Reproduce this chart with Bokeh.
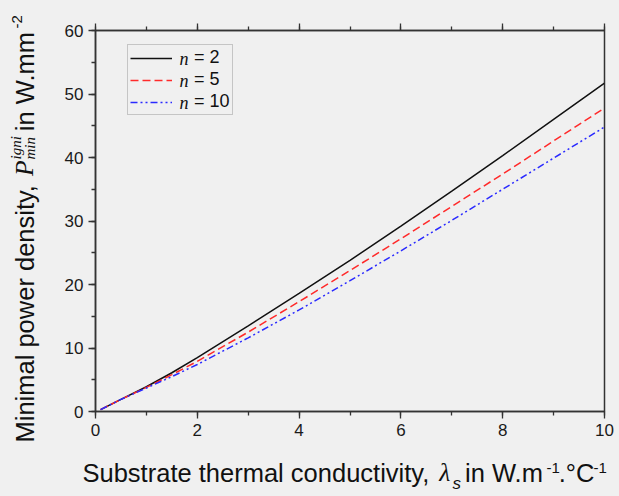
import math
from bokeh.plotting import figure
from bokeh.models import (LinearAxis, SingleIntervalTicker, Range1d, Legend,
                          LegendItem, Label, ColumnDataSource)
from bokeh.embed import file_html
from bokeh.resources import INLINE

# ---------------- data ----------------
lam_s = [0.1, 0.5, 1.0, 1.5, 2.0, 3.0, 4.0, 5.0, 6.0, 7.0, 8.0, 9.0, 10.0]
p_min_n2 = [0.3, 1.9, 3.9, 6.1, 8.5, 13.5, 18.6, 23.8, 29.2, 34.7, 40.3, 46.0, 51.7]
p_min_n5 = [0.3, 1.9, 3.8, 5.8, 7.9, 12.5, 17.3, 22.2, 27.2, 32.3, 37.4, 42.6, 47.8]
p_min_n10 = [0.3, 1.9, 3.7, 5.5, 7.4, 11.6, 16.0, 20.6, 25.3, 30.1, 35.0, 39.9, 44.8]
n_values = ["2", "5", "10"]
x_limits = (0, 10)
y_limits = (0, 60)
x_tick_step = 2
y_tick_step = 10

# ---------------- styling ----------------
BG = "#f0f0f0"
AXC = "#333333"
TXT = "#111111"
SANS = "Liberation Sans"
SERIF = "Liberation Serif"
W, H = 619, 496
BL, BR, BT, BB = 95, 15, 30, 85

p = figure(width=W, height=H, output_backend="svg", toolbar_location=None,
           x_range=Range1d(*x_limits), y_range=Range1d(*y_limits),
           min_border_left=BL, min_border_right=BR, min_border_top=BT,
           min_border_bottom=BB, background_fill_color=BG,
           border_fill_color=BG, outline_line_color=AXC,
           outline_line_width=1.5)
p.grid.visible = False


def style_axis(ax, ticker, labels=True):
    ax.ticker = ticker
    ax.axis_line_color = AXC
    ax.axis_line_width = 1.5
    ax.major_tick_line_color = AXC
    ax.major_tick_line_width = 1.3
    ax.minor_tick_line_color = AXC
    ax.minor_tick_line_width = 1.3
    ax.major_tick_out = 7
    ax.major_tick_in = 0
    ax.minor_tick_out = 4
    ax.minor_tick_in = 0
    ax.major_label_text_font = SANS
    ax.major_label_text_font_size = "17px"
    ax.major_label_text_color = "#1a1a1a"
    ax.major_label_standoff = 5
    ax.axis_label = None
    if not labels:
        ax.major_label_overrides = {float(v): "" for v in range(x_limits[0], x_limits[1] + 1)}
        ax.major_label_text_font_size = "1px"


style_axis(p.xaxis[0], SingleIntervalTicker(interval=x_tick_step, num_minor_ticks=2))
style_axis(p.yaxis[0], SingleIntervalTicker(interval=y_tick_step, num_minor_ticks=2))

top = LinearAxis()
style_axis(top, SingleIntervalTicker(interval=x_tick_step, num_minor_ticks=2), labels=False)
p.add_layout(top, "above")

r2 = p.line(lam_s, p_min_n2, line_color="#111111", line_width=1.5)
r5 = p.line(lam_s, p_min_n5, line_color="#ff2a2a", line_width=1.5, line_dash="8 4")
r10 = p.line(lam_s, p_min_n10, line_color="#2a2aff", line_width=1.5,
             line_dash="7 3 2 3 2 3")

legend = Legend(items=[LegendItem(label="= " + v, renderers=[r])
                       for v, r in zip(n_values, [r2, r5, r10])],
                location=(32, 296), margin=0, padding=2, spacing=1,
                glyph_width=42, glyph_height=18, label_height=18,
                label_standoff=22, label_text_font=SANS,
                label_text_font_size="18px", label_text_color=TXT,
                border_line_color="#9a9a9a", border_line_width=1,
                background_fill_alpha=0)
p.add_layout(legend)

# italic "n" in front of each legend label (canvas px)
for i, v in enumerate(n_values):
    p.add_layout(Label(x=179, y=58.2 + 22 * i, x_units="canvas", y_units="canvas",
                       text="n", text_font=SERIF, text_font_style="italic",
                       text_font_size="18px", text_color=TXT,
                       text_baseline="middle", text_align="left"))

# ---------------- rich axis titles (text pieces offset in px from the
# frame's bottom-left corner, drawn above the frame clip) ----------------
SANS_W = {" ": 278, ",": 278, ".": 278, "-": 333, "1": 556, "2": 556, "°": 400,
          "a": 556, "b": 556, "c": 500, "d": 556, "e": 556, "h": 556, "i": 222,
          "l": 222, "m": 833, "n": 556, "o": 556, "p": 556, "r": 333, "s": 500,
          "t": 278, "u": 556, "v": 500, "w": 722, "y": 500, "M": 833, "S": 667,
          "W": 944, "C": 722}
SERIF_I_W = {"P": 611, "λ": 480, "i": 278, "g": 500, "n": 500, "m": 722}
K = 0.3          # empirical baseline shift of the text glyph (fraction of size)


def tw(s, size, table):
    return sum(table.get(c, 556) for c in s) * size / 1000.0


OX, OY = BL, H - BB          # canvas px of the frame's bottom-left corner
pieces = dict(txt=[], dx=[], dy=[], ang=[], font=[], size=[], style=[])


def piece(text, px, py, font, size, style="normal", angle=0.0):
    # (px, py): wanted baseline-start position in canvas px
    if angle:
        px -= K * size
    else:
        py -= K * size
    pieces["txt"].append(text)
    pieces["dx"].append(px - OX)
    pieces["dy"].append(py - OY)
    pieces["ang"].append(angle)
    pieces["font"].append(font)
    pieces["size"].append(f"{size}px")
    pieces["style"].append(style)


# x title
F = 25.5
base = 480.0
cx = 82.0
for t, fnt, sz, st, d, tab, gap in [
        ("Substrate thermal conductivity, ", SANS, F, "normal", 0, SANS_W, 1),
        ("λ", SERIF, F, "italic", 0, SERIF_I_W, 1),
        ("s", SANS, 17, "italic", 8, SANS_W, 4),
        (" in W.m", SANS, F, "normal", 0, SANS_W, -5),
        ("-1", SANS, 15, "normal", -8, SANS_W, -1),
        (".°C", SANS, F, "normal", 0, SANS_W, -1),
        ("-1", SANS, 15, "normal", -8, SANS_W, 0)]:
    piece(t, cx, base + d, fnt, sz, st)
    cx += tw(t, sz, tab) + gap

# y title (rotated, reading upward)
FY = 25.5
bx = 32.0
A = math.pi / 2
cy = 442.0
piece("Minimal power density, ", bx, cy, SANS, FY, angle=A)
cy -= tw("Minimal power density, ", FY, SANS_W)
piece("P", bx, cy, SERIF, FY, "italic", angle=A)
cy -= tw("P", FY, SERIF_I_W) + 1
piece("igni", bx - 12, cy, SERIF, 15, "italic", angle=A)
piece("min", bx + 2, cy, SERIF, 15, "italic", angle=A)
cy -= max(tw("igni", 15, SERIF_I_W), tw("min", 15, SERIF_I_W)) + 5
piece(" in W.mm", bx, cy, SANS, FY, angle=A)
cy -= tw(" in W.mm", FY, SANS_W) - 5
piece("-2", bx - 11, cy, SANS, 15, angle=A)

pieces["ax"] = [x_limits[0]] * len(pieces["txt"])
pieces["ay"] = [y_limits[0]] * len(pieces["txt"])
p.text(x="ax", y="ay", text="txt", x_offset="dx", y_offset="dy", angle="ang",
       text_font="font", text_font_size="size", text_font_style="style",
       text_color=TXT, text_align="left", text_baseline="alphabetic",
       source=ColumnDataSource(pieces), level="overlay")

TEMPLATE = """
{% block postamble %}
<style>body { background: #f0f0f0; }</style>
{% endblock %}
"""

open("out.html", "w").write(file_html(p, INLINE, template=TEMPLATE))
